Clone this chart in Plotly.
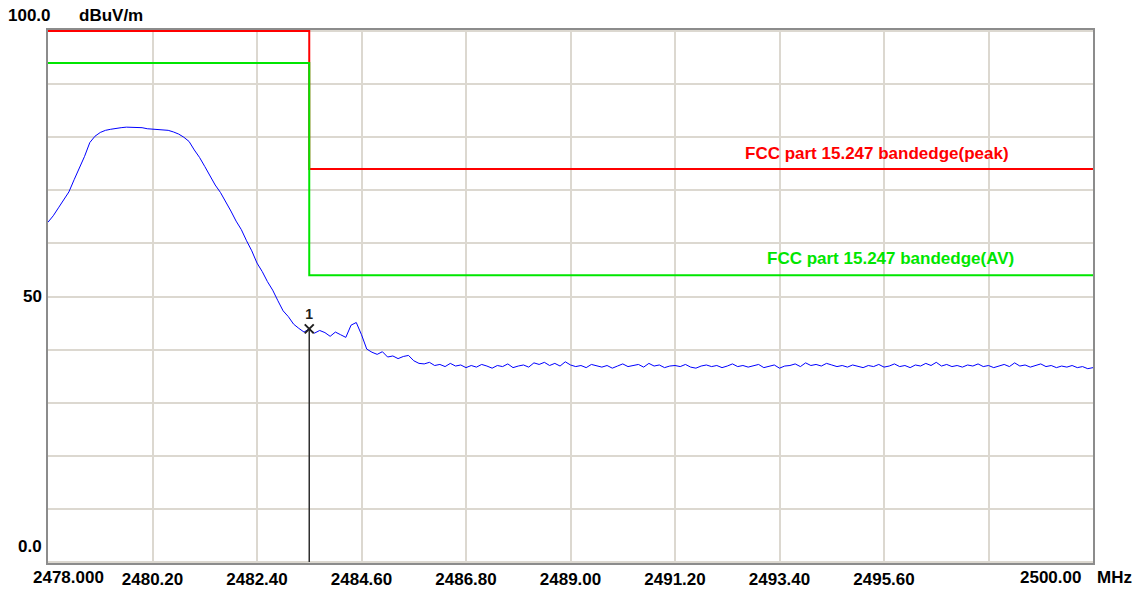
import numpy as np
import plotly.graph_objects as go

# Sweep: 2478 - 2500 MHz, 201 points
f_start, f_stop = 2478.0, 2500.0

level_dbuv = [
    64.0, 65.2, 66.7, 68.2, 69.7, 72.0, 74.1, 76.4, 79.0, 80.2,
    80.9, 81.3, 81.5, 81.7, 81.8, 81.9, 81.9, 81.9, 81.8, 81.6,
    81.5, 81.4, 81.4, 81.3, 81.0, 80.6, 80.0, 79.2, 77.6, 76.2,
    74.5, 72.8, 71.0, 69.6, 67.9, 66.1, 64.2, 62.6, 60.5, 58.6,
    56.3, 54.7, 52.8, 51.2, 49.2, 47.3, 46.2, 44.8, 44.0, 43.3,
    43.9, 43.1, 43.6, 43.2, 42.5, 43.3, 42.8, 42.3, 44.6, 45.1,
    42.8, 40.1, 39.5, 39.1, 39.6, 38.6, 38.8, 38.3, 38.7, 38.9,
    37.9, 37.4,
    37.3, 37.6, 37.0, 37.2, 36.8, 37.4, 36.9, 37.1, 36.6, 37.0,
    36.7, 37.2, 36.9, 36.5, 37.0, 36.8, 37.3, 36.6, 36.9, 37.1,
    36.7, 37.5, 37.2, 37.6, 37.0, 37.4, 36.9, 37.7, 37.1, 36.8,
    37.0, 36.6, 37.2, 36.9, 36.7, 37.0, 36.5, 36.9, 37.3, 36.8,
    37.0, 37.2, 36.7, 37.4, 36.9, 37.1, 36.6, 36.9, 37.0, 36.8,
    37.2, 36.7, 36.5, 36.9, 37.1, 36.8, 37.0, 36.6, 36.9, 37.3,
    36.8, 37.0, 36.7, 36.9, 37.2, 36.6, 36.8, 37.1, 36.5, 36.9,
    37.0, 37.3, 36.8, 37.5, 37.0, 37.2, 36.9, 37.4, 37.1, 36.8,
    37.0, 36.7, 37.1, 36.9, 36.6, 37.0, 36.8, 37.2, 36.7, 36.9,
    37.3, 36.8, 37.0, 36.6, 37.1, 36.9, 37.4, 37.0, 37.6, 36.9,
    37.2, 36.8, 37.0, 36.7, 37.1, 36.9, 37.3, 36.8, 37.0, 36.6,
    36.9, 37.2, 36.8, 37.5, 36.9, 37.1, 36.7, 37.0, 37.3, 36.8,
    37.0, 36.6, 36.9, 36.7, 37.0, 36.6, 36.8, 36.4, 36.6,
]
freq_mhz = np.linspace(f_start, f_stop, len(level_dbuv))

# Band-edge limit lines (frequency, dBuV/m)
band_edge_mhz = 2483.5
peak_limit_x = [f_start, band_edge_mhz, band_edge_mhz, f_stop]
peak_limit_y = [100.0, 100.0, 74.0, 74.0]
av_limit_x = [f_start, band_edge_mhz, band_edge_mhz, f_stop]
av_limit_y = [94.0, 94.0, 54.0, 54.0]

# Marker 1 at the band edge
marker_freq = 2483.5
marker_idx = int(np.argmin(np.abs(freq_mhz - marker_freq)))
marker_level = level_dbuv[marker_idx]

x_ticks = [2478.0, 2480.2, 2482.4, 2484.6, 2486.8, 2489.0,
           2491.2, 2493.4, 2495.6, 2497.8, 2500.0]
x_tick_text = ["", "2480.20", "2482.40", "2484.60", "2486.80", "2489.00",
               "2491.20", "2493.40", "2495.60", "", ""]
y_ticks = [0, 10, 20, 30, 40, 50, 60, 70, 80, 90, 100]

FONT = "Liberation Sans"
fs = 17

fig = go.Figure()

fig.add_trace(go.Scatter(x=peak_limit_x, y=peak_limit_y, mode="lines",
                         line=dict(color="#ff0000", width=2), hoverinfo="skip"))
fig.add_trace(go.Scatter(x=av_limit_x, y=av_limit_y, mode="lines",
                         line=dict(color="#00e600", width=2), hoverinfo="skip"))
fig.add_trace(go.Scatter(x=freq_mhz, y=level_dbuv, mode="lines",
                         line=dict(color="#0000ff", width=1)))
fig.add_trace(go.Scatter(x=[marker_freq, marker_freq], y=[marker_level, 0],
                         mode="lines", line=dict(color="#303030", width=1.5)))
fig.add_trace(go.Scatter(x=[marker_freq], y=[marker_level], mode="markers+text",
                         marker=dict(symbol="x-thin-open", size=9, color="#202020",
                                     line=dict(color="#202020", width=2)),
                         text=["1"], textposition="top center",
                         textfont=dict(family=FONT, size=14, color="#202020", weight="bold"),
                         cliponaxis=False))

annotations = [
    dict(text="FCC part 15.247 bandedge(peak)", x=2495.45, y=74, yshift=16,
         xanchor="center", yanchor="middle", showarrow=False,
         font=dict(family=FONT, size=fs, color="#ff0000", weight="bold")),
    dict(text="FCC part 15.247 bandedge(AV)", x=2495.73, y=54, yshift=17,
         xanchor="center", yanchor="middle", showarrow=False,
         font=dict(family=FONT, size=fs, color="#00e600", weight="bold")),
    # axis labels around the frame
    dict(text="100.0", xref="paper", x=0, xshift=5, y=100, yshift=16,
         xanchor="right", yanchor="middle", showarrow=False),
    dict(text="dBuV/m", xref="paper", x=0, xshift=29, y=100, yshift=16,
         xanchor="left", yanchor="middle", showarrow=False),
    dict(text="50", xref="paper", x=0, xshift=-4, y=50,
         xanchor="right", yanchor="middle", showarrow=False),
    dict(text="0.0", xref="paper", x=0, xshift=-4, y=0, yshift=15,
         xanchor="right", yanchor="middle", showarrow=False),
    dict(text="2478.000", x=f_start, xshift=-17, yref="paper", y=0, yshift=-14,
         xanchor="left", yanchor="middle", showarrow=False),
    dict(text="2500.00", x=f_stop, xshift=-10, yref="paper", y=0, yshift=-14,
         xanchor="right", yanchor="middle", showarrow=False),
    dict(text="MHz", x=f_stop, xshift=2, yref="paper", y=0, yshift=-14,
         xanchor="left", yanchor="middle", showarrow=False),
]
for a in annotations:
    a.setdefault("font", dict(family=FONT, size=fs, color="#000000", weight="bold"))

fig.update_layout(
    width=1137, height=589,
    margin=dict(l=48, r=44, t=30, b=26, autoexpand=False),
    paper_bgcolor="white", plot_bgcolor="white",
    showlegend=False,
    annotations=annotations,
    xaxis=dict(range=[f_start, f_stop], tickvals=x_ticks, ticktext=x_tick_text,
               showgrid=True, gridcolor="#dcd8d0", gridwidth=1.5, automargin=False,
               zeroline=False, showline=True, linecolor="#8c8c8c", linewidth=2,
               mirror=True, ticks="", layer="below traces", ticklabelstandoff=0,
               tickfont=dict(family=FONT, size=fs, color="#000000", weight="bold")),
    yaxis=dict(range=[-0.2, 100.2], tickvals=y_ticks, showticklabels=False,
               showgrid=True, gridcolor="#dcd8d0", gridwidth=1.5, automargin=False,
               zeroline=False, showline=True, linecolor="#8c8c8c", linewidth=2,
               mirror=True, ticks="", layer="below traces"),
)

fig.write_html("out.html")
